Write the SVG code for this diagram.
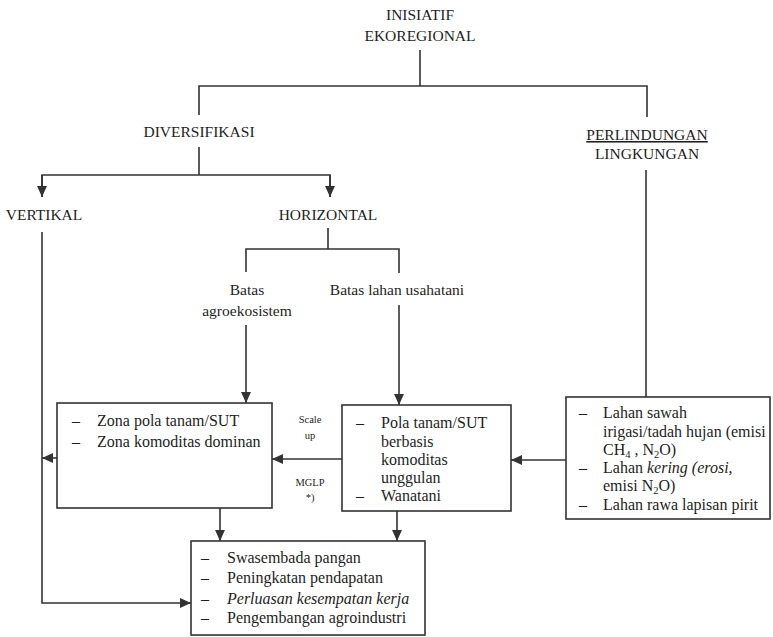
<svg xmlns="http://www.w3.org/2000/svg" width="773" height="637" viewBox="0 0 773 637" font-family="'Liberation Serif', 'DejaVu Serif', 'Times New Roman', serif">
<style>
text{font-family:'Liberation Serif','DejaVu Serif','Times New Roman',serif;fill:#1e1e1e;}
.h{font-size:15.5px;text-anchor:middle;}
.t{font-size:16px;}
.d{font-size:16px;text-anchor:middle;}
.s{font-size:10.5px;text-anchor:middle;}
.box{fill:none;stroke:#333;stroke-width:1.6;}
.ln{fill:none;stroke:#333;stroke-width:1.6;}
.ar{fill:none;stroke:#333;stroke-width:1.6;marker-end:url(#ah);}
.i{font-style:italic;}
</style>
<defs>
<marker id="ah" viewBox="0 0 10 10" refX="10" refY="5" markerWidth="11" markerHeight="11" markerUnits="userSpaceOnUse" orient="auto">
<path d="M0,0.5 L10,5 L0,9.5 Z" fill="#333"/>
</marker>
</defs>
<rect width="773" height="637" fill="#fff"/>
<g id="connectors">
<path class="ln" d="M420,50 V86 M199,115 V86 H647 V117"/>
<path class="ln" d="M199,147 V175 M42,197 V175 H330 V197"/>
<path class="ar" d="M42,175 V197"/>
<path class="ar" d="M330,175 V197"/>
<path class="ln" d="M328,228 V249 M246,272 V249 H399 V273"/>
<path class="ar" d="M246,325 V403"/>
<path class="ar" d="M399,305 V405"/>
<path class="ar" d="M42,232 V603 H191"/>
<path class="ar" d="M57,458 H42"/>
<path class="ar" d="M342,459 H272"/>
<path class="ar" d="M566,460 H511"/>
<path class="ln" d="M646,170 V397"/>
<path class="ar" d="M220,508 V541"/>
<path class="ar" d="M397,511 V541"/>
</g>
<g id="n-inisiatif">
<text class="h" x="420" y="20">INISIATIF</text>
<text class="h" x="420" y="41">EKOREGIONAL</text>
</g>
<g id="n-diversifikasi">
<text class="h" x="199" y="137">DIVERSIFIKASI</text>
</g>
<g id="n-perlindungan">
<text class="h" x="647" y="140" text-decoration="underline">PERLINDUNGAN</text>
<text class="h" x="647" y="159">LINGKUNGAN</text>
</g>
<g id="n-vertikal">
<text class="h" x="44" y="220">VERTIKAL</text>
</g>
<g id="n-horizontal">
<text class="h" x="328" y="220">HORIZONTAL</text>
</g>
<g id="n-batas-agro">
<text class="h" x="247" y="295">Batas</text>
<text class="h" x="247" y="316">agroekosistem</text>
</g>
<g id="n-batas-lahan">
<text class="h" x="397" y="295">Batas lahan usahatani</text>
</g>
<g id="n-zona">
<rect class="box" x="57" y="403" width="215" height="105"/>
<text class="d" x="76" y="426">–</text><text class="t" x="97" y="426">Zona pola tanam/SUT</text>
<text class="d" x="76" y="447">–</text><text class="t" x="97" y="447">Zona komoditas dominan</text>
</g>
<g id="n-pola">
<rect class="box" x="342" y="405" width="169" height="106"/>
<text class="d" x="360" y="428">–</text><text class="t" x="381" y="428">Pola tanam/SUT</text>
<text class="t" x="381" y="447">berbasis</text>
<text class="t" x="381" y="465">komoditas</text>
<text class="t" x="381" y="483">unggulan</text>
<text class="d" x="360" y="501">–</text><text class="t" x="381" y="501">Wanatani</text>
</g>
<g id="n-lahan">
<rect class="box" x="566" y="397" width="204" height="122"/>
<text class="d" x="583" y="418">–</text><text class="t" x="603" y="418">Lahan sawah</text>
<text class="t" x="603" y="437">irigasi/tadah hujan (emisi</text>
<text class="t" x="603" y="455">CH<tspan font-size="10.5" dy="3">4</tspan><tspan dy="-3"> , N</tspan><tspan font-size="10.5" dy="3">2</tspan><tspan dy="-3">O)</tspan></text>
<text class="d" x="583" y="473">–</text><text class="t" x="603" y="473">Lahan <tspan class="i">kering (erosi,</tspan></text>
<text class="t" x="603" y="491">emisi N<tspan font-size="10.5" dy="3">2</tspan><tspan dy="-3">O)</tspan></text>
<text class="d" x="583" y="510">–</text><text class="t" x="603" y="510">Lahan rawa lapisan pirit</text>
</g>
<g id="n-hasil">
<rect class="box" x="191" y="541" width="234" height="94"/>
<text class="d" x="205" y="563">–</text><text class="t" x="227" y="563">Swasembada pangan</text>
<text class="d" x="205" y="583">–</text><text class="t" x="227" y="583">Peningkatan pendapatan</text>
<text class="d" x="205" y="604">–</text><text class="t i" x="227" y="604">Perluasan kesempatan kerja</text>
<text class="d" x="205" y="623">–</text><text class="t" x="227" y="623">Pengembangan agroindustri</text>
</g>
<g id="labels">
<text class="s" x="310" y="423">Scale</text>
<text class="s" x="310" y="439">up</text>
<text class="s" x="310" y="486">MGLP</text>
<text class="s" x="310" y="501">*)</text>
</g>
</svg>
